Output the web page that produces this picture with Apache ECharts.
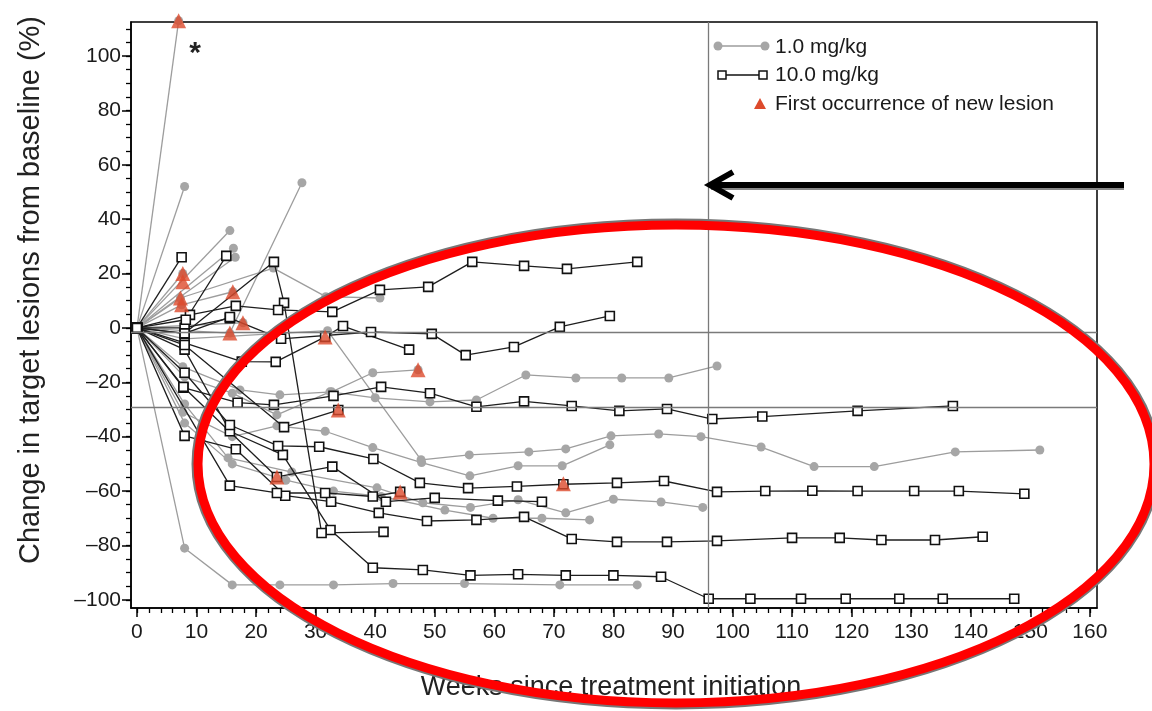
<!DOCTYPE html>
<html><head><meta charset="utf-8">
<script src="https://cdn.jsdelivr.net/npm/echarts@6/dist/echarts.min.js"></script>
<style>html,body{margin:0;padding:0;background:#fff}#c{width:1152px;height:711px}</style>
</head><body><div id="c"></div>
<script>
// ---- tick labels ----
const xTickLabels = [0,10,20,30,40,50,60,70,80,90,100,110,120,130,140,150,160];
const yTickLabels = [-100,-80,-60,-40,-20,0,20,40,60,80,100];

// ---- 10.0 mg/kg patients: [week, % change] ----
const b01 = [[0,0],[8,-8],[15.6,-38],[24.5,-46.7],[32.5,-74.3],[39.6,-88.2],[48,-89],[56,-91],[64,-90.6],[72,-91],[80,-91],[88,-91.5],[96,-99.6],[103,-99.6],[111.5,-99.6],[119,-99.6],[128,-99.6],[135.3,-99.6],[147.3,-99.6]];
const b02 = [[0,0],[8,-39.7],[16.6,-44.6],[24.9,-61.7],[32.6,-63.9],[40.6,-68],[48.7,-71],[57,-70.6],[65,-69.5],[73,-77.6],[80.6,-78.7],[89,-78.7],[97.4,-78.3],[110,-77.2],[118,-77.2],[125,-78],[134,-78],[142,-76.8]];
const b03 = [[0,0],[8,-16.5],[15.6,-35.7],[23.7,-43.4],[30.6,-43.7],[39.7,-48.2],[47.5,-57],[55.6,-58.9],[63.8,-58.3],[71.6,-57.5],[80.6,-57],[88.5,-56.3],[97.4,-60.3],[105.5,-60],[113.4,-59.9],[121,-60],[130.5,-60],[138,-60],[149,-61]];
const b04 = [[0,0],[15.6,-58],[23.5,-60.7],[31.6,-60.7],[39.6,-62],[44.2,-60.3]];
const b05 = [[0,0],[8,-2],[23,24.3],[24.7,9.2],[31,-75.4],[41.4,-75]];
const b06 = [[0,0],[8.9,4.8],[16.6,8.1],[23.7,6.6],[32.8,5.9],[40.8,14],[48.9,15.1],[56.3,24.3],[65,22.8],[72.2,21.7],[84,24.3]];
const b07 = [[0,0],[8,0],[15.6,3.6],[24.2,-4],[39.3,-1.5],[49.5,-2.2],[55.2,-10],[63.3,-7],[71,0.4],[79.4,4.4]];
const b08 = [[0,0],[7.5,26]];
const b09 = [[0,0],[8.2,3],[15,26.5]];
const b10 = [[0,0],[8,-5.5],[17.6,-12.4],[23.3,-12.5],[31.6,-3.3],[34.6,0.7],[45.7,-8]];
const b11 = [[0,0],[7.8,-22],[16.9,-27.5],[23,-28.3],[33,-25],[41,-21.7],[49.2,-24],[57,-29],[65,-27],[73,-28.7],[81,-30.5],[89,-29.8],[96.6,-33.5],[105,-32.6],[121,-30.5],[137,-28.7]];
const b12 = [[0,0],[8,-6.3],[24.7,-36.5],[33.8,-30.2]];
const b13 = [[0,0],[7.8,-21.7],[23.5,-54.8],[32.8,-51],[41.8,-63.9],[50,-62.5],[60.6,-63.5],[68,-63.9]];
const b14 = [[0,0],[8,-2],[15.6,4]];
const dose10 = [b01,b02,b03,b04,b05,b06,b07,b08,b09,b10,b11,b12,b13,b14];

// ---- 1.0 mg/kg patients ----
const g01 = [[0,0],[8,-81],[16,-94.5],[24,-94.5],[33,-94.5],[43,-94],[55,-94],[71,-94.5],[84,-94.5]];
const g02 = [[0,0],[7,113]];
const g03 = [[0,0],[8,52]];
const g04 = [[0,0],[15.6,35.8]];
const g05 = [[0,0],[16.2,29.3]];
const g06 = [[0,0],[16.5,26]];
const g07 = [[0,0],[15.6,-1.9],[27.7,53.4]];
const g08 = [[0,0],[7.3,11],[22.9,22],[31.7,11.5],[40.8,11]];
const g09 = [[0,0],[7.7,20]];
const g10 = [[0,0],[7.5,8.5],[16.1,13.3]];
const g11 = [[0,0],[17.8,1.9]];
const g12 = [[0,0],[7.7,-14.3],[17.3,-22.8],[24,-24.6],[32.7,-23.5],[39.6,-16.5],[47.2,-15.4]];
const g13 = [[0,0],[8,-18],[16,-24],[23.5,-32],[32.4,-23.5],[40,-25.7],[49.2,-27.2],[57,-26.5],[65.3,-17.3],[73.7,-18.4],[81.4,-18.4],[89.3,-18.4],[97.4,-14]];
const g14 = [[0,0],[8,-4],[24,-2],[32,-1],[47.7,-48.5],[55.8,-46.7],[65.8,-45.6],[72,-44.5],[79.6,-39.7],[87.6,-39],[94.7,-40],[104.8,-43.8],[113.7,-51],[123.8,-51],[137.4,-45.6],[151.6,-44.9]];
const g15 = [[0,0],[7.7,-31],[16,-40],[23.5,-36],[31.6,-38],[39.6,-44],[47.8,-49.5],[55.9,-54.4],[64,-50.7],[71.4,-50.7],[79.4,-43]];
const g16 = [[0,0],[8,-28],[15.3,-47.8],[26,-53],[40.3,-58.8],[48,-64.3],[56,-66],[64,-63.2],[72,-68],[80,-63],[88,-64],[95,-66]];
const g17 = [[0,0],[8,-35],[16,-50],[25,-56],[33,-60],[41,-62],[51.7,-67],[59.8,-70],[68,-70],[76,-70.6]];
const dose1 = [g01,g02,g03,g04,g05,g06,g07,g08,g09,g10,g11,g12,g13,g14,g15,g16,g17];

// ---- first occurrence of new lesion ----
const newLesion = [[7,113],[7.7,20],[7.7,17],[7.3,11],[7.5,8.5],[16.1,13.3],[17.8,1.9],[15.6,-1.9],[31.6,-3.3],[33.8,-30.2],[23.5,-54.8],[47.2,-15.4],[44.2,-60.3],[71.6,-57.3]];

// ---- reference lines ----
const refY = [-1.5, -29.2];
const refX = [96];

const X_MIN = -1, X_MAX = 161.2, Y_MIN = -103, Y_MAX = 112.5;
const xMinor = []; for (let v = 0; v <= 160; v += 2) xMinor.push(v);
const yMinor = []; for (let v = -100; v <= 110; v += 5) yMinor.push(v);

const FONT = '"Liberation Sans", Arial, sans-serif';
const chart = echarts.init(document.getElementById('c'), null, {renderer: 'canvas'});

const series = [];
dose1.forEach(d => series.push({
  type: 'line', name: '1.0 mg/kg', data: d, clip: false, z: 2,
  symbol: 'circle', symbolSize: 9, showSymbol: true,
  itemStyle: {color: '#a6a6a6'},
  lineStyle: {color: '#9d9d9d', width: 1.3}
}));
dose10.forEach(d => series.push({
  type: 'line', name: '10.0 mg/kg', data: d, clip: false, z: 3,
  symbol: 'rect', symbolSize: 9, showSymbol: true,
  itemStyle: {color: '#ffffff', borderColor: '#111', borderWidth: 1.6},
  lineStyle: {color: '#1e1e1e', width: 1.3}
}));
series.push({
  type: 'scatter', name: 'First occurrence of new lesion', data: newLesion, clip: false, z: 5,
  symbol: 'triangle', symbolSize: 15, itemStyle: {color: '#dd4a2c'}
});
series.push({
  type: 'line', data: [[X_MIN, Y_MIN]], symbol: 'none', lineStyle: {width: 0}, z: 1, silent: true,
  markLine: {
    silent: true, symbol: 'none', label: {show: false},
    lineStyle: {color: '#7a7a7a', width: 1.3, type: 'solid'},
    data: refY.map(v => [{coord: [X_MIN, v]}, {coord: [X_MAX, v]}])
      .concat(refX.map(v => [{coord: [v, Y_MIN]}, {coord: [v, Y_MAX]}]))
  }
});

const axisLine = {show: true, onZero: false, lineStyle: {color: '#000', width: 1.5}};
chart.setOption({
  animation: false,
  backgroundColor: '#fff',
  grid: {left: 131, top: 22, width: 966, height: 586, show: true, borderColor: '#000', borderWidth: 1.5,
         containLabel: false, outerBoundsMode: 'none'},
  xAxis: [
    {type: 'value', min: X_MIN, max: X_MAX, position: 'bottom', axisLine,
     axisTick: {show: true, customValues: xMinor, length: 5, lineStyle: {color: '#000', width: 1.3}},
     axisLabel: {show: false}, splitLine: {show: false}},
    {type: 'value', min: X_MIN, max: X_MAX, position: 'bottom', axisLine: {show: false, onZero: false},
     axisTick: {show: true, customValues: xTickLabels, length: 9, lineStyle: {color: '#000', width: 1.5}},
     axisLabel: {show: true, customValues: xTickLabels, fontSize: 21, fontFamily: FONT, color: '#1a1a1a', margin: 14},
     splitLine: {show: false}}
  ],
  yAxis: [
    {type: 'value', min: Y_MIN, max: Y_MAX, position: 'left', axisLine,
     axisTick: {show: true, customValues: yMinor, length: 5, lineStyle: {color: '#000', width: 1.3}},
     axisLabel: {show: false}, splitLine: {show: false}},
    {type: 'value', min: Y_MIN, max: Y_MAX, position: 'left', axisLine: {show: false, onZero: false},
     axisTick: {show: true, customValues: yTickLabels, length: 9, lineStyle: {color: '#000', width: 1.5}},
     axisLabel: {show: true, customValues: yTickLabels, fontSize: 21, fontFamily: FONT, color: '#1a1a1a', margin: 10,
                 formatter: v => v < 0 ? '\u2013' + Math.abs(v) : String(v)},
     splitLine: {show: false}}
  ],
  series,
  graphic: [
    // axis titles
    {type: 'text', x: 31, y: 290, rotation: Math.PI / 2, z: 10,
     style: {text: 'Change in target lesions from baseline (%)', font: '29px ' + FONT, fill: '#222', align: 'center', verticalAlign: 'middle'}},
    {type: 'text', x: 611, y: 688, z: 10,
     style: {text: 'Weeks since treatment initiation', font: '27px ' + FONT, fill: '#222', align: 'center', verticalAlign: 'middle'}},
    // asterisk
    {type: 'text', x: 195, y: 54, z: 10,
     style: {text: '*', font: 'bold 30px ' + FONT, fill: '#222', align: 'center', verticalAlign: 'middle'}},
    // legend
    {type: 'line', z: 10, shape: {x1: 718, y1: 46, x2: 765, y2: 46}, style: {stroke: '#9d9d9d', lineWidth: 1.3}},
    {type: 'circle', z: 11, shape: {cx: 718, cy: 46, r: 4.5}, style: {fill: '#a6a6a6'}},
    {type: 'circle', z: 11, shape: {cx: 765, cy: 46, r: 4.5}, style: {fill: '#a6a6a6'}},
    {type: 'text', x: 775, y: 47, z: 10, style: {text: '1.0 mg/kg', font: '21px ' + FONT, fill: '#1a1a1a', verticalAlign: 'middle'}},
    {type: 'line', z: 10, shape: {x1: 722, y1: 75, x2: 762, y2: 75}, style: {stroke: '#111', lineWidth: 1.3}},
    {type: 'rect', z: 11, shape: {x: 718, y: 71, width: 8, height: 8}, style: {fill: '#fff', stroke: '#111', lineWidth: 1.5}},
    {type: 'rect', z: 11, shape: {x: 759, y: 71, width: 8, height: 8}, style: {fill: '#fff', stroke: '#111', lineWidth: 1.5}},
    {type: 'text', x: 775, y: 75, z: 10, style: {text: '10.0 mg/kg', font: '21px ' + FONT, fill: '#1a1a1a', verticalAlign: 'middle'}},
    {type: 'polygon', z: 11, shape: {points: [[760, 98], [754, 109], [766, 109]]}, style: {fill: '#dd4a2c'}},
    {type: 'text', x: 775, y: 104, z: 10, style: {text: 'First occurrence of new lesion', font: '21px ' + FONT, fill: '#1a1a1a', verticalAlign: 'middle'}},
    // annotation arrow
    {type: 'line', z: 20, shape: {x1: 711, y1: 187, x2: 1124, y2: 187}, style: {stroke: '#888', lineWidth: 6}},
    {type: 'line', z: 21, shape: {x1: 711, y1: 185, x2: 1124, y2: 185}, style: {stroke: '#000', lineWidth: 6}},
    {type: 'polyline', z: 21, shape: {points: [[733, 172], [710, 185], [733, 198]]}, style: {stroke: '#000', lineWidth: 6, fill: null, lineJoin: 'miter'}},
    // annotation ellipse
    {type: 'ellipse', z: 20, shape: {cx: 676, cy: 464, rx: 482, ry: 243}, style: {fill: null, stroke: '#777', lineWidth: 5}},
    {type: 'ellipse', z: 21, shape: {cx: 676, cy: 464, rx: 478, ry: 239}, style: {fill: null, stroke: '#ff0000', lineWidth: 9}}
  ]
});
</script>
</body></html>
